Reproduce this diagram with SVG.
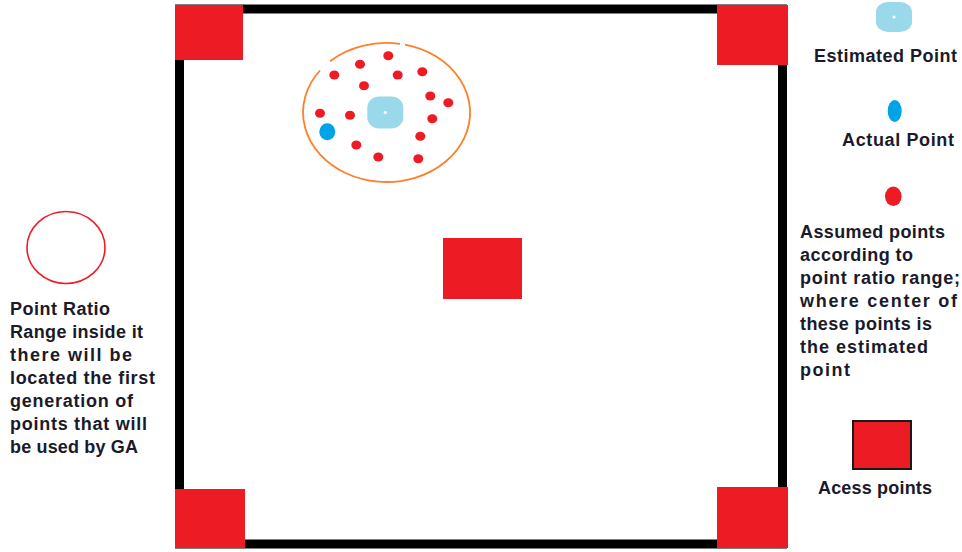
<svg xmlns="http://www.w3.org/2000/svg" width="962" height="552" viewBox="0 0 962 552">
  <style>
    .ap { fill: #ED1C24; }
    .dot { fill: #ED1C24; }
    .est { fill: #99D9EA; }
    .act { fill: #00A2E8; }
    .lbl { font-family: "Liberation Sans", Arial, sans-serif; font-weight: bold; font-size: 18px; fill: #1a1a2a; }
  </style>
  <rect width="962" height="552" fill="#ffffff"/>

  <g id="room">
    <rect x="179.5" y="9" width="603" height="535" fill="none" stroke="#000000" stroke-width="9"/>
  </g>

  <g id="ap-top-left"><rect class="ap" x="175" y="5" width="68" height="55"/></g>
  <g id="ap-top-right"><rect class="ap" x="717" y="5" width="71" height="60"/></g>
  <g id="ap-bottom-left"><rect class="ap" x="175" y="489" width="70" height="59"/></g>
  <g id="ap-bottom-right"><rect class="ap" x="717" y="487" width="71" height="61"/></g>
  <g id="ap-center"><rect class="ap" x="443" y="238" width="79" height="61"/></g>

  <g id="range">
    <path d="M405,44.7 A83.5 69.5 0 1 1 320,70.5 M330,61.3 A83.5 69.5 0 0 1 400,43.9" fill="none" stroke="#FF7F27" stroke-width="1.8"/>
    <ellipse class="dot" cx="388.3" cy="55.7" rx="5" ry="4.5"/>
    <ellipse class="dot" cx="360" cy="64.3" rx="5" ry="4.5"/>
    <ellipse class="dot" cx="334.3" cy="75" rx="5" ry="4.5"/>
    <ellipse class="dot" cx="397.7" cy="75" rx="5" ry="4.5"/>
    <ellipse class="dot" cx="422.3" cy="71.7" rx="5" ry="4.5"/>
    <ellipse class="dot" cx="364" cy="85.7" rx="5" ry="4.5"/>
    <ellipse class="dot" cx="430.3" cy="96" rx="5" ry="4.5"/>
    <ellipse class="dot" cx="448.3" cy="102.7" rx="5" ry="4.5"/>
    <ellipse class="dot" cx="320" cy="113.3" rx="5" ry="4.5"/>
    <ellipse class="dot" cx="350" cy="115.3" rx="5" ry="4.5"/>
    <ellipse class="dot" cx="432.3" cy="118.7" rx="5" ry="4.5"/>
    <ellipse class="dot" cx="420.3" cy="136.3" rx="5" ry="4.5"/>
    <ellipse class="dot" cx="356.3" cy="145" rx="5" ry="4.5"/>
    <ellipse class="dot" cx="378.3" cy="157" rx="5" ry="4.5"/>
    <ellipse class="dot" cx="418.3" cy="158.7" rx="5" ry="4.5"/>
    <ellipse class="act" cx="327.3" cy="131.7" rx="8" ry="8.5"/>
    <rect class="est" x="367.3" y="96.5" width="36" height="32" rx="12" ry="11"/>
    <circle cx="385.3" cy="112.5" r="1.6" fill="#ffffff"/>
  </g>

  <g id="legend-range">
    <ellipse cx="66" cy="247.5" rx="39" ry="36" fill="none" stroke="#ED1C24" stroke-width="1.6"/>
    <text class="lbl">
      <tspan x="10" y="315" textLength="100">Point Ratio</tspan>
      <tspan x="10" y="338" textLength="133">Range inside it</tspan>
      <tspan x="10" y="361" textLength="122">there will be</tspan>
      <tspan x="10" y="384" textLength="145">located the first</tspan>
      <tspan x="10" y="407" textLength="123">generation of</tspan>
      <tspan x="10" y="430" textLength="137">points that will</tspan>
      <tspan x="10" y="453" textLength="128">be used by GA</tspan>
    </text>
  </g>

  <g id="legend-estimated">
    <rect class="est" x="876" y="2" width="36" height="30" rx="12" ry="10"/>
    <circle cx="894" cy="17" r="1.6" fill="#ffffff"/>
    <text class="lbl" x="814" y="62" textLength="143">Estimated Point</text>
  </g>

  <g id="legend-actual">
    <ellipse class="act" cx="894.7" cy="111" rx="7" ry="11"/>
    <text class="lbl" x="842" y="146" textLength="112">Actual Point</text>
  </g>

  <g id="legend-assumed">
    <ellipse class="dot" cx="893.3" cy="196.3" rx="8.3" ry="9.7"/>
    <text class="lbl">
      <tspan x="800" y="238" textLength="145">Assumed points</tspan>
      <tspan x="800" y="261" textLength="113">according to</tspan>
      <tspan x="800" y="284" textLength="160">point ratio range;</tspan>
      <tspan x="800" y="307" textLength="157">where center of</tspan>
      <tspan x="800" y="330" textLength="132">these points is</tspan>
      <tspan x="800" y="353" textLength="128">the estimated</tspan>
      <tspan x="800" y="376" textLength="50">point</tspan>
    </text>
  </g>

  <g id="legend-ap">
    <rect x="853" y="421" width="58" height="48" fill="#ED1C24" stroke="#1a1a1a" stroke-width="2"/>
    <text class="lbl" x="818" y="494" textLength="114">Acess points</text>
  </g>
</svg>
